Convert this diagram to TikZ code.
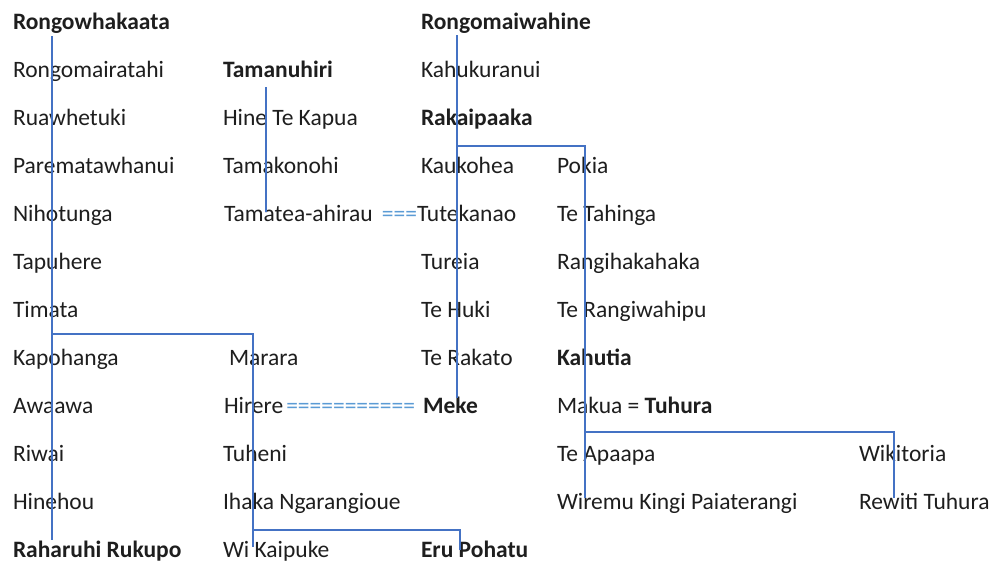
\documentclass[tikz,border=0pt]{standalone}
\usepackage{fontspec}
\setmainfont{Carlito}
\definecolor{linec}{HTML}{4472C4}
\definecolor{eqc}{HTML}{5B9BD5}
\definecolor{txt}{HTML}{1E1E1E}
\begin{document}
\begin{tikzpicture}[x=1pt,y=-1pt,
  nm/.style={anchor=base west,inner sep=0pt,outer sep=0pt,text=txt,font=\fontsize{23.5}{26}\selectfont},
  bnm/.style={nm,font=\fontsize{23.5}{26}\selectfont\bfseries},
  eqs/.style={anchor=base east,inner sep=0pt,outer sep=0pt,text=eqc,font=\fontsize{23.5}{26}\selectfont},
  link/.style={draw=linec,line width=1.3pt}]
\useasboundingbox[fill=white] (0,0) rectangle (999,562);
% column 1
\node[bnm] (r0) at (13,29) {Rongowhakaata};
\node[nm] (r1) at (13,77) {Rongomairatahi};
\node[nm] (r2) at (13,125) {Ruawhetuki};
\node[nm] (r3) at (13,173) {Parematawhanui};
\node[nm] (r4) at (13,221) {Nihotunga};
\node[nm] (r5) at (13,269) {Tapuhere};
\node[nm] (r6) at (13,317) {Timata};
\node[nm] (r7) at (13,365) {Kapohanga};
\node[nm] (r8) at (13,413) {Awaawa};
\node[nm] (r9) at (13,461) {Riwai};
\node[nm] (r10) at (13,509) {Hinehou};
\node[bnm] (r11) at (13,557) {Raharuhi Rukupo};
% column 2
\node[bnm] (t1) at (223,77) {Tamanuhiri};
\node[nm] (t2) at (223,125) {Hine Te Kapua};
\node[nm] (t3) at (223,173) {Tamakonohi};
\node[nm] (t4) at (224,221) {Tamatea-ahirau};
\node[nm] (m7) at (229,365) {Marara};
\node[nm] (m8) at (224,413) {Hirere};
\node[nm] (m9) at (223,461) {Tuheni};
\node[nm] (m10) at (223,509) {Ihaka Ngarangioue};
\node[nm] (m11) at (223,557) {Wi Kaipuke};
% column 3
\node[bnm] (k0) at (421,29) {Rongomaiwahine};
\node[nm] (k1) at (421,77) {Kahukuranui};
\node[bnm] (k2) at (421,125) {Rakaipaaka};
\node[nm] (k3) at (421,173) {Kaukohea};
\node[nm] (k4) at (417,221) {Tutekanao};
\node[nm] (k5) at (421,269) {Tureia};
\node[nm] (k6) at (421,317) {Te Huki};
\node[nm] (k7) at (421,365) {Te Rakato};
\node[bnm] (k8) at (423,413) {Meke};
\node[bnm] (k11) at (421,557) {Eru Pohatu};
% column 4
\node[nm] (p3) at (557,173) {Pokia};
\node[nm] (p4) at (557,221) {Te Tahinga};
\node[nm] (p5) at (557,269) {Rangihakahaka};
\node[nm] (p6) at (557,317) {Te Rangiwahipu};
\node[bnm] (p7) at (557,365) {Kahutia};
\node[nm] (p8) at (557,413) {Makua = \textbf{Tuhura}};
\node[nm] (p9) at (557,461) {Te Apaapa};
\node[nm] (p10) at (557,509) {Wiremu Kingi Paiaterangi};
% column 5
\node[nm] (w9) at (859,461) {Wikitoria};
\node[nm] (w10) at (859,509) {Rewiti Tuhura};
% marriage signs
\node[eqs] (e1) at (k4.base west) {===};
\node[eqs] (e2) at (415,413) {===========};
% line coordinates
\coordinate (a0) at (52,36);
\coordinate (a1) at (52,540);
\coordinate (a2) at (52,334);
\coordinate (a3) at (253,334);
\coordinate (a4) at (253,547);
\coordinate (a5) at (253,530);
\coordinate (a6) at (460,530);
\coordinate (a7) at (460,550);
\coordinate (b0) at (266,87);
\coordinate (b1) at (266,212);
\coordinate (c0) at (457,35);
\coordinate (c1) at (457,398);
\coordinate (c2) at (457,146);
\coordinate (c3) at (585,146);
\coordinate (c4) at (585,498);
\coordinate (c5) at (585,432);
\coordinate (c6) at (894,432);
\coordinate (c7) at (894,498);
% lines
\draw[link] (a0) -- (a1);
\draw[link] (a2) -- (a3) -- (a4);
\draw[link] (a5) -- (a6) -- (a7);
\draw[link] (b0) -- (b1);
\draw[link] (c0) -- (c1);
\draw[link] (c2) -- (c3) -- (c4);
\draw[link] (c5) -- (c6) -- (c7);
\end{tikzpicture}
\end{document}
